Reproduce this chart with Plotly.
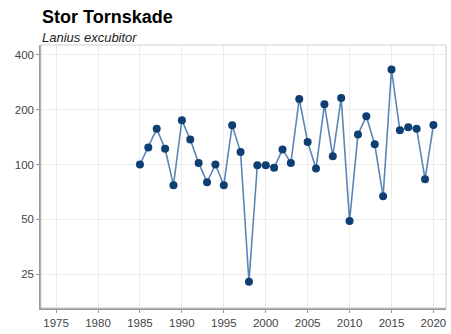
import plotly.graph_objects as go
import math

years = list(range(1985, 2021))
values = [100, 124, 157, 122, 77, 175, 137, 102, 80, 100, 77, 164, 117, 22.7,
          99, 99, 96, 121, 102, 229, 133, 95, 214, 111, 232, 49, 146, 184, 129,
          67, 332, 154, 160, 157, 83, 165]
x_ticks = [1975, 1980, 1985, 1990, 1995, 2000, 2005, 2010, 2015, 2020]
y_ticks = [25, 50, 100, 200, 400]

fig = go.Figure()
fig.add_trace(go.Scatter(
    x=years, y=values, mode="lines+markers",
    line=dict(color="#5a86b5", width=1.6),
    marker=dict(color="#0f3f72", size=8),
    showlegend=False,
))

fig.update_layout(
    width=451, height=334,
    margin=dict(l=41, r=5, t=45, b=26),
    paper_bgcolor="white", plot_bgcolor="white",
    font=dict(family="Liberation Sans, Arial, sans-serif", color="#444444", size=11),
    annotations=[
        dict(text="<b>Stor Tornskade</b>", xref="paper", yref="paper", x=-0.003, y=1.108,
             xanchor="left", yanchor="middle", showarrow=False,
             font=dict(size=18, color="black")),
        dict(text="<i>Lanius excubitor</i>", xref="paper", yref="paper", x=-0.003, y=1.03,
             xanchor="left", yanchor="middle", showarrow=False,
             font=dict(size=13, color="#222222")),
    ],
    shapes=[dict(type="rect", xref="paper", yref="paper", x0=0, y0=0, x1=1, y1=1,
                 line=dict(color="#cfcfcf", width=1), layer="above")],
)
fig.update_xaxes(
    range=[1973.2, 2021.5], tickvals=x_ticks, ticktext=[str(t) for t in x_ticks],
    showgrid=True, gridcolor="#ececec", gridwidth=1, zeroline=False,
    showline=True, linecolor="#999999", linewidth=1.5,
    ticks="outside", ticklen=3, tickcolor="#999999",
    tickfont=dict(size=11.5, color="#444444"),
)
fig.update_yaxes(
    type="log", range=[math.log10(16.3), math.log10(453)],
    tickvals=y_ticks, ticktext=[str(t) for t in y_ticks],
    showgrid=True, gridcolor="#ececec", gridwidth=1, zeroline=False,
    showline=True, linecolor="#999999", linewidth=1.5,
    ticks="outside", ticklen=3, tickcolor="#999999",
    tickfont=dict(size=11.5, color="#444444"),
)

fig.write_html("out.html", config={"displayModeBar": False},
               post_script="document.body.style.margin='0';document.body.style.overflow='hidden';")
